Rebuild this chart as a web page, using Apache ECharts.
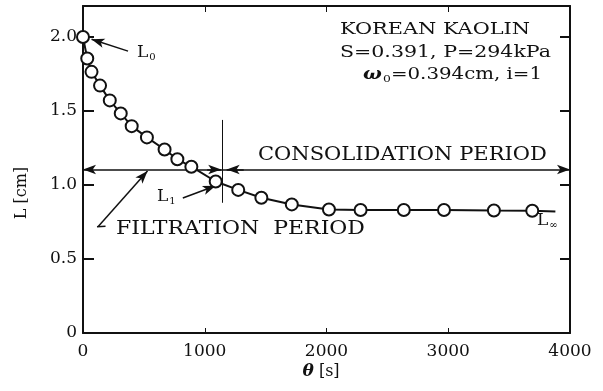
<!DOCTYPE html>
<html><head><meta charset="utf-8">
<script src="https://cdn.jsdelivr.net/npm/echarts@6/dist/echarts.min.js"></script>
<style>html,body{margin:0;padding:0;background:#fff}#c{width:603px;height:391px}</style>
</head><body><div id="c"></div>
<script>
// ---- data ----
const thetaValues  = [0, 35, 70, 140, 220, 310, 400, 525, 670, 775, 890, 1090, 1275, 1465, 1715, 2020, 2280, 2635, 2965, 3375, 3690];
const lengthValues = [2.00, 1.855, 1.765, 1.672, 1.572, 1.484, 1.398, 1.322, 1.240, 1.174, 1.124, 1.024, 0.967, 0.914, 0.869, 0.835, 0.831, 0.831, 0.831, 0.828, 0.826];
const tailPoint = [3880, 0.821];           // line continues past last marker
const xTickLabels = ['0', '1000', '2000', '3000', '4000'];
const yTickLabels = ['0', '0.5', '1.0', '1.5', '2.0'];
const periodLevel = 1.105;                 // level of the period arrows
const boundaryTheta = 1140;                // filtration / consolidation boundary
const boundarySpan = [0.88, 1.44];

const FONT = '"DejaVu Serif", "Liberation Serif", serif';
const INK = '#111';

const chart = echarts.init(document.getElementById('c'), null, {renderer: 'canvas'});

const seriesData = thetaValues.map((t, i) => [t, lengthValues[i]]);
seriesData.push({value: tailPoint, symbol: 'none'});

const xTickVals = xTickLabels.map(Number);
const yTickVals = yTickLabels.map(Number);

const axisCommon = {
  axisLine: {show: true, onZero: false, lineStyle: {color: INK, width: 2}},
  splitLine: {show: false},
};

chart.setOption({
  animation: false,
  backgroundColor: '#fff',
  grid: {left: 83, right: 33, top: 6, bottom: 58, containLabel: false},
  xAxis: [
    Object.assign({type: 'value', min: 0, max: 4000, interval: 1000, position: 'bottom',
      axisTick: {show: true, inside: true, length: 5, lineStyle: {color: INK, width: 1}},
      axisLabel: {color: INK, fontFamily: FONT, fontSize: 17, margin: 10,
        formatter: v => xTickVals.includes(v) ? xTickLabels[xTickVals.indexOf(v)] : ''}}, axisCommon),
    Object.assign({type: 'value', min: 0, max: 4000, interval: 1000, position: 'top',
      axisTick: {show: true, inside: true, length: 6, lineStyle: {color: INK, width: 1}},
      axisLabel: {show: false}}, axisCommon)
  ],
  yAxis: [
    Object.assign({type: 'value', min: 0, max: 2.21, interval: 0.5, position: 'left',
      axisTick: {show: true, inside: true, length: 11, lineStyle: {color: INK, width: 2}},
      axisLabel: {color: INK, fontFamily: FONT, fontSize: 17, margin: 6,
        formatter: v => {
          const k = yTickVals.findIndex(t => Math.abs(t - v) < 1e-6);
          return k >= 0 ? yTickLabels[k] : '';
        }}}, axisCommon),
    Object.assign({type: 'value', min: 0, max: 2.21, interval: 0.5, position: 'right',
      axisTick: {show: true, inside: true, length: 10, lineStyle: {color: INK, width: 2}},
      axisLabel: {show: false}}, axisCommon)
  ],
  series: [{
    type: 'line',
    xAxisIndex: 0, yAxisIndex: 0,
    data: seriesData,
    symbol: 'circle',
    symbolSize: 12,
    itemStyle: {color: '#fff', borderColor: INK, borderWidth: 2},
    lineStyle: {color: INK, width: 2},
    z: 5,
    emphasis: {disabled: true},
    markLine: {
      silent: true,
      animation: false,
      label: {show: false},
      emphasis: {disabled: true},
      symbolSize: [7, 13],
      lineStyle: {color: INK, width: 1.5, type: 'solid'},
      z: 3,
      data: [
        [{coord: [0, periodLevel], symbol: 'arrow'}, {coord: [4000, periodLevel], symbol: 'arrow'}],
        [{coord: [1020, periodLevel], symbol: 'none'}, {coord: [boundaryTheta - 5, periodLevel], symbol: 'arrow'}],
        [{coord: [1320, periodLevel], symbol: 'none'}, {coord: [boundaryTheta + 40, periodLevel], symbol: 'arrow'}],
        [{coord: [boundaryTheta, boundarySpan[0]], symbol: 'none'}, {coord: [boundaryTheta, boundarySpan[1]], symbol: 'none', lineStyle: {width: 1}}],
        [{coord: [370, 1.905], symbol: 'none'}, {coord: [70, 1.985], symbol: 'arrow', lineStyle: {curveness: -0.15}}],
        [{coord: [820, 0.912], symbol: 'none'}, {coord: [1090, 0.995], symbol: 'arrow', lineStyle: {curveness: 0.25}}],
        [{coord: [125, 0.72], symbol: 'none'}, {coord: [530, 1.095], symbol: 'arrow'}],
        [{coord: [115, 0.718], symbol: 'none'}, {coord: [185, 0.722], symbol: 'none'}]
      ]
    }
  }]
});

// ---- annotations (positioned in data space) ----
const ctx = document.createElement('canvas').getContext('2d');
function mw(text, size, weight, style) {
  ctx.font = `${style || 'normal'} ${weight || 'normal'} ${size}px ${FONT}`;
  return ctx.measureText(text).width;
}
function px(x, y) { return chart.convertToPixel({gridIndex: 0}, [x, y]); }

function plainText(x, y, text, size, targetW) {
  const p = px(x, y);
  const w = mw(text, size);
  return {type: 'text', x: p[0], y: p[1], scaleX: targetW ? targetW / w : 1, z: 10,
    style: {text, fontFamily: FONT, fontSize: size, fill: INK,
      textAlign: 'left', textVerticalAlign: 'middle', align: 'left', verticalAlign: 'middle'}};
}

const subStyle = s => ({fontFamily: FONT, fontSize: s, fill: INK, verticalAlign: 'bottom', padding: [0, 0, -1, 1]});

function subText(x, y, base, sub, size) {
  const p = px(x, y);
  return {type: 'text', x: p[0], y: p[1], z: 10,
    style: {text: `{m|${base}}{s|${sub}}`, fill: INK,
      textAlign: 'left', textVerticalAlign: 'middle', align: 'left', verticalAlign: 'middle',
      rich: {m: {fontFamily: FONT, fontSize: size, fill: INK}, s: subStyle(Math.round(size * 0.6))}}};
}

const graphics = [];
graphics.push(plainText(2111, 2.047, 'KOREAN KAOLIN', 16, 190));
graphics.push(plainText(2111, 1.892, 'S=0.391, P=294kPa', 16, 211));
{
  const p = px(2300, 1.743);
  const rest = '=0.394cm, i=1';
  const natural = mw('ω', 16, 'bold', 'italic') + mw('0', 10) + 1 + mw(rest, 16);
  graphics.push({type: 'text', x: p[0], y: p[1], z: 10, scaleX: 179 / natural,
    style: {text: `{w|ω}{s|0}{n|${rest}}`, fill: INK,
      textAlign: 'left', textVerticalAlign: 'middle', align: 'left', verticalAlign: 'middle',
      rich: {w: {fontFamily: FONT, fontSize: 16, fontWeight: 'bold', fontStyle: 'italic', fill: INK},
             s: subStyle(10),
             n: {fontFamily: FONT, fontSize: 16, fill: INK}}}});
}
graphics.push(plainText(1437, 1.203, 'CONSOLIDATION PERIOD', 18, 289));
graphics.push(plainText(271, 0.703, 'FILTRATION  PERIOD', 18, 249));
graphics.push(subText(444, 1.892, 'L', '0', 17));
graphics.push(subText(608, 0.919, 'L', '1', 17));
graphics.push(subText(3729, 0.757, 'L', '∞', 17));

{
  const p = px(-501, 0.946);
  graphics.push({type: 'text', x: p[0], y: p[1], rotation: Math.PI / 2, z: 10,
    style: {text: 'L [cm]', fontFamily: FONT, fontSize: 16, fill: INK,
      textAlign: 'center', textVerticalAlign: 'middle', align: 'center', verticalAlign: 'middle'}});
  const q = px(1955, -0.264);
  graphics.push({type: 'text', x: q[0], y: q[1], z: 10,
    style: {text: '{t|θ}{n| [s]}', fill: INK,
      textAlign: 'center', textVerticalAlign: 'middle', align: 'center', verticalAlign: 'middle',
      rich: {t: {fontFamily: FONT, fontSize: 17, fontWeight: 'bold', fontStyle: 'italic', fill: INK},
             n: {fontFamily: FONT, fontSize: 16, fill: INK}}}});
}

chart.setOption({graphic: graphics});
</script>
</body></html>
